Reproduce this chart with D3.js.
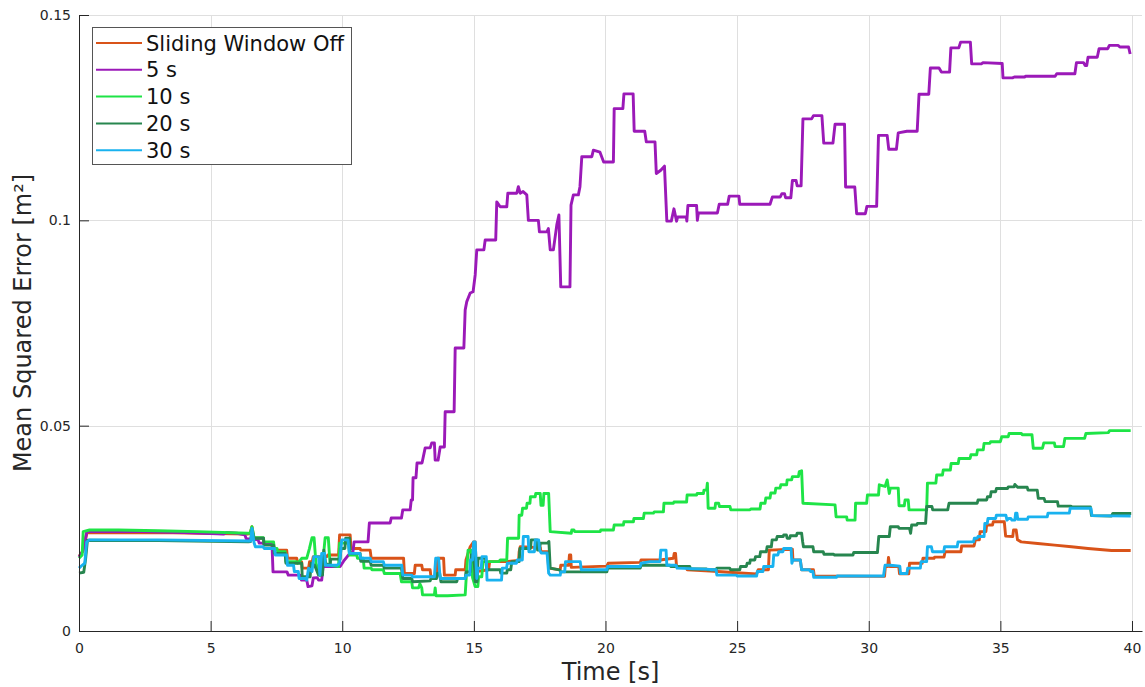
<!DOCTYPE html>
<html>
<head>
<meta charset="utf-8">
<script src="https://cdn.jsdelivr.net/npm/d3@7"></script>
<style>
  html, body { margin: 0; padding: 0; background: #fff; }
  svg { display: block; font-family: "DejaVu Sans", sans-serif; }
</style>
</head>
<body>
<svg id="chart" width="1145" height="687"></svg>
<script>
// Mean squared error over time for different sliding-window lengths.
// Each series is a list of [time (s), MSE (m^2)] samples.

const seriesNames = ["Sliding Window Off", "5 s", "10 s", "20 s", "30 s"];
const seriesColors = ["#d95319", "#9b19b8", "#1ee446", "#27864f", "#19b2ef"];

const xTicks = [0, 5, 10, 15, 20, 25, 30, 35, 40];
const yTicks = [0, 0.05, 0.1, 0.15];
const yTickLabels = ["0", "0.05", "0.1", "0.15"];

const windowOff = [
  [0,0.0182],[0.15,0.0195],[0.3,0.0239],[3,0.0240],[6.4,0.0236],
  [6.5,0.0237],[6.57,0.0254],[6.65,0.0226],[7.0,0.0226],[7.02,0.0212],[7.39,0.0212],[7.42,0.0197],
  [7.89,0.0197],[7.92,0.0177],[8.27,0.0177],[8.3,0.0168],[8.46,0.0168],[8.48,0.0153],[8.72,0.0153],
  [8.76,0.0169],[8.86,0.0169],[8.9,0.0181],[9.41,0.0181],[9.45,0.0185],[9.86,0.0185],[9.9,0.0234],
  [10.3,0.0234],[10.33,0.0201],[10.68,0.0201],[10.7,0.0197],[11.06,0.0197],[11.1,0.0177],[12.33,0.0177],
  [12.36,0.014],[12.74,0.014],[12.77,0.016],[13.02,0.016],[13.05,0.0149],[13.34,0.0149],[13.37,0.0132],
  [13.6,0.0132],[13.62,0.0177],[13.85,0.0177],[13.88,0.0136],[14.29,0.0136],[14.31,0.0149],[14.67,0.0149],
  [14.7,0.0173],[14.86,0.0205],[14.99,0.0217],[15.05,0.0217],[15.1,0.0145],[15.56,0.0149],[15.6,0.0169],
  [16.25,0.0169],[16.7,0.0172],[16.72,0.0193],[16.76,0.0205],[17.52,0.0203],[17.55,0.0193],[17.8,0.0193],
  [17.84,0.0153],[18.28,0.0149],[18.3,0.016],[18.6,0.016],[18.63,0.0185],[18.68,0.0185],[18.7,0.0155],
  [20.05,0.0158],[20.1,0.0165],[21.32,0.0167],[21.35,0.0173],[22.07,0.0173],[22.58,0.0177],[22.61,0.0189],
  [22.66,0.0189],[22.7,0.0157],[23.08,0.0155],[23.1,0.0149],[23.97,0.0146],[24.98,0.0142],[25.74,0.0139],
  [25.8,0.0149],[26.19,0.0149],[26.22,0.0197],[27.1,0.0199],[27.12,0.0173],[27.4,0.0173],[27.45,0.0149],
  [27.9,0.0149],[27.93,0.0134],[30.6,0.0133],[30.63,0.0157],[30.72,0.0157],[30.75,0.0179],[30.8,0.0157],
  [31.14,0.0157],[31.17,0.0139],[31.52,0.0139],[31.55,0.0165],[32.03,0.0165],[32.06,0.0177],[32.48,0.0177],
  [32.5,0.018],[32.86,0.018],[32.9,0.0193],[33.5,0.0193],[33.53,0.0207],[34.0,0.0207],[34.05,0.0222],
  [34.2,0.0222],[34.23,0.0242],[34.45,0.0242],[34.48,0.0258],[34.7,0.0258],[34.73,0.0266],[35.15,0.0266],
  [35.2,0.0231],[35.47,0.023],[35.5,0.0246],[35.6,0.0246],[35.65,0.0222],[35.79,0.0217],[36.42,0.0213],
  [37.06,0.0209],[37.7,0.0205],[38.33,0.0201],[39.22,0.0196],[39.95,0.0196]
];

const window5s = [
  [0,0.018],[0.15,0.0195],[0.3,0.0242],[2,0.0243],[4,0.0240],[5.5,0.0236],[5.6,0.0240],[6.0,0.0238],
  [6.3,0.0234],[6.35,0.0225],[6.8,0.0222],[6.85,0.0214],[7.33,0.0214],[7.37,0.0144],[7.9,0.0144],
  [7.95,0.0136],[8.4,0.0136],[8.45,0.0124],[8.65,0.0124],[8.7,0.0108],[8.85,0.011],[8.9,0.0129],
  [9.05,0.013],[9.1,0.0124],[9.22,0.0124],[9.27,0.0157],[9.92,0.0157],[10.05,0.017],[10.3,0.019],
  [10.4,0.019],[10.45,0.0217],[10.98,0.0217],[11.03,0.0263],[11.82,0.0263],[11.86,0.0275],[12.25,0.0275],
  [12.3,0.0295],[12.58,0.0295],[12.62,0.0319],[12.67,0.0319],[12.69,0.0373],[12.80,0.0373],[12.84,0.0409],
  [13.03,0.0409],[13.15,0.0446],[13.34,0.0446],[13.40,0.0458],[13.5,0.0458],[13.53,0.0416],[13.64,0.0416],
  [13.72,0.0448],[13.88,0.0448],[13.91,0.0534],[14.25,0.0534],[14.29,0.0689],[14.62,0.0689],[14.67,0.0782],
  [14.73,0.0802],[14.86,0.0823],[14.97,0.0826],[15.05,0.0867],[15.11,0.0928],[15.38,0.0928],[15.43,0.0952],
  [15.83,0.0952],[15.87,0.1045],[16.0,0.1033],[16.25,0.1033],[16.29,0.1066],[16.63,0.1066],[16.69,0.1082],
  [16.76,0.1066],[16.87,0.1070],[17.01,0.1062],[17.07,0.1],[17.45,0.1],[17.49,0.0972],[17.77,0.0972],
  [17.83,0.098],[17.9,0.0928],[18.02,0.0928],[18.15,0.0989],[18.23,0.1013],[18.30,0.0838],[18.65,0.0838],
  [18.69,0.1037],[18.78,0.1062],[18.97,0.1062],[19.03,0.1082],[19.1,0.1155],[19.48,0.1155],[19.54,0.1171],
  [19.79,0.1166],[19.93,0.1142],[20.3,0.1142],[20.33,0.1272],[20.66,0.1272],[20.7,0.1308],[21.05,0.1308],
  [21.09,0.1217],[21.49,0.1217],[21.55,0.1191],[21.88,0.1191],[21.93,0.1114],[22.1,0.1122],[22.24,0.1132],
  [22.33,0.0998],[22.5,0.0998],[22.6,0.1028],[22.7,0.0998],[22.74,0.1008],[23.07,0.1008],[23.09,0.0998],
  [23.13,0.1036],[23.46,0.1036],[23.49,0.1],[23.53,0.1018],[24.25,0.1018],[24.32,0.1039],[24.64,0.1039],
  [24.7,0.1059],[25.07,0.1059],[25.1,0.1039],[26.25,0.1039],[26.34,0.1057],[26.64,0.1057],[26.7,0.1065],
  [26.8,0.1065],[26.84,0.1055],[27.04,0.1055],[27.1,0.1097],[27.24,0.1097],[27.28,0.1084],[27.43,0.1084],
  [27.5,0.1247],[27.83,0.1247],[27.9,0.1255],[28.22,0.1255],[28.29,0.1188],[28.64,0.1188],[28.72,0.1234],
  [29.08,0.1234],[29.12,0.1081],[29.47,0.1081],[29.54,0.1016],[29.87,0.1016],[29.93,0.1034],[30.3,0.1034],
  [30.37,0.1207],[30.7,0.1207],[30.76,0.1173],[31.05,0.1173],[31.12,0.1213],[31.45,0.1217],[31.84,0.1217],
  [31.91,0.1307],[32.28,0.1307],[32.34,0.1371],[32.67,0.1371],[32.76,0.1361],[33.07,0.1361],[33.12,0.142],
  [33.42,0.142],[33.49,0.1434],[33.86,0.1434],[33.91,0.1381],[34.28,0.1381],[34.34,0.1384],[35.07,0.1382],
  [35.1,0.1347],[35.46,0.1347],[35.53,0.1349],[35.92,0.1349],[35.96,0.1351],[37.08,0.1351],[37.14,0.1357],
  [37.83,0.1357],[37.89,0.1384],[38.16,0.1384],[38.22,0.1377],[38.28,0.1377],[38.33,0.1397],[38.68,0.1397],
  [38.75,0.1418],[39.08,0.1418],[39.14,0.1426],[39.47,0.1426],[39.54,0.1422],[39.87,0.1422],[39.93,0.1405]
];

const window10s = [
  [0,0.0177],[0.12,0.0185],[0.16,0.0242],[0.4,0.0246],[1.5,0.0246],[3,0.0244],[4.5,0.0242],[6.4,0.0238],
  [6.5,0.0238],[6.57,0.0254],[6.65,0.0227],[7.0,0.0227],[7.02,0.0217],[7.39,0.0217],[7.42,0.0201],
  [7.52,0.0201],[7.55,0.0193],[7.83,0.0193],[7.86,0.0169],[8.27,0.0169],[8.3,0.0165],[8.4,0.0172],
  [8.46,0.0177],[8.65,0.0177],[8.75,0.020],[8.85,0.0227],[8.93,0.0227],[9.0,0.0165],[9.15,0.0136],
  [9.25,0.016],[9.35,0.0227],[9.47,0.0227],[9.54,0.016],[9.86,0.0157],[9.9,0.0214],[10.24,0.0214],
  [10.28,0.0185],[10.55,0.0185],[10.58,0.0177],[10.8,0.0177],[10.83,0.0153],[11.1,0.0153],[11.13,0.0149],
  [11.56,0.0149],[11.6,0.014],[12.2,0.014],[12.25,0.012],[12.64,0.012],[12.67,0.0105],[12.9,0.0105],
  [12.95,0.0115],[13.02,0.0105],[13.05,0.0088],[13.5,0.0088],[13.53,0.0105],[13.56,0.0086],[14.0,0.0086],
  [14.67,0.0088],[14.7,0.012],[14.78,0.0197],[14.9,0.0197],[14.95,0.013],[15.05,0.0108],[15.15,0.0108],
  [15.18,0.0132],[15.3,0.0132],[15.35,0.0169],[15.95,0.0169],[16.0,0.0173],[16.25,0.0173],[16.28,0.0226],
  [16.7,0.0226],[16.72,0.0282],[16.82,0.0282],[16.85,0.0299],[17.0,0.0299],[17.02,0.0311],[17.13,0.0311],
  [17.15,0.0327],[17.33,0.0327],[17.35,0.0335],[17.52,0.0335],[17.55,0.0306],[17.63,0.0306],[17.66,0.0335],
  [17.84,0.0335],[17.9,0.0242],[18.7,0.0238],[18.72,0.0246],[18.8,0.0246],[18.83,0.0242],[19.8,0.0242],
  [19.82,0.0246],[20.3,0.0246],[20.33,0.0258],[20.68,0.0258],[20.7,0.0266],[21.06,0.0266],[21.08,0.0274],
  [21.44,0.0274],[21.47,0.0287],[21.82,0.0287],[21.85,0.029],[22.2,0.029],[22.22,0.0311],[22.58,0.0311],
  [22.6,0.0314],[23.08,0.0314],[23.1,0.0331],[23.46,0.0331],[23.48,0.0335],[23.72,0.0335],[23.74,0.0343],
  [23.84,0.0343],[23.87,0.036],[23.9,0.0299],[24.16,0.0299],[24.18,0.0311],[24.3,0.0311],[24.33,0.0303],
  [24.73,0.0303],[24.76,0.0295],[25.49,0.0295],[25.52,0.0297],[25.87,0.0297],[25.9,0.0311],[26.06,0.0311],
  [26.09,0.0324],[26.25,0.0324],[26.28,0.0336],[26.44,0.0336],[26.47,0.0348],[26.63,0.0348],[26.66,0.0356],
  [26.88,0.0356],[26.9,0.0368],[27.07,0.0368],[27.1,0.0376],[27.33,0.0376],[27.36,0.0388],[27.45,0.039],
  [27.5,0.0311],[28.72,0.0307],[28.76,0.0278],[29.16,0.0278],[29.18,0.027],[29.48,0.027],[29.5,0.0311],
  [29.92,0.0311],[29.95,0.0331],[30.37,0.0331],[30.4,0.0356],[30.62,0.0352],[30.7,0.0368],[30.78,0.0335],
  [30.82,0.0348],[31.12,0.0348],[31.15,0.0305],[31.35,0.0305],[31.38,0.0319],[31.5,0.0319],[31.53,0.0295],
  [32.2,0.0295],[32.23,0.036],[32.55,0.036],[32.58,0.038],[32.8,0.038],[32.83,0.0392],[33.1,0.0392],
  [33.13,0.0408],[33.4,0.0408],[33.43,0.042],[33.85,0.042],[33.88,0.0429],[34.1,0.0429],[34.13,0.0441],
  [34.35,0.0441],[34.38,0.0457],[34.6,0.0457],[34.63,0.0461],[35.0,0.0461],[35.05,0.0473],[35.3,0.0473],
  [35.33,0.0481],[35.8,0.0481],[35.83,0.0478],[36.2,0.0478],[36.25,0.0445],[36.6,0.0445],[36.65,0.0458],
  [37.05,0.0458],[37.08,0.0449],[37.4,0.0449],[37.45,0.0469],[38.2,0.0469],[38.25,0.0481],[39.1,0.0483],
  [39.15,0.0488],[39.95,0.0488]
];

const window20s = [
  [0,0.0141],[0.18,0.0143],[0.25,0.0175],[0.32,0.0221],[3,0.022],[6.43,0.0217],[6.52,0.0218],[6.57,0.0245],
  [6.65,0.0226],[7.01,0.0226],[7.03,0.0209],[7.39,0.0209],[7.42,0.0189],[7.83,0.0189],[7.86,0.0165],
  [8.46,0.0165],[8.48,0.0132],[8.78,0.0132],[8.82,0.0165],[8.95,0.016],[9.1,0.0136],[9.25,0.0136],
  [9.3,0.0197],[9.37,0.0165],[9.54,0.016],[9.56,0.0175],[9.92,0.0175],[9.95,0.0201],[10.1,0.0201],
  [10.13,0.0226],[10.28,0.0226],[10.3,0.0189],[10.68,0.0189],[10.7,0.017],[11.06,0.017],[11.1,0.016],
  [11.56,0.016],[11.6,0.0153],[12.25,0.0153],[12.3,0.0128],[12.64,0.0128],[12.67,0.012],[13.34,0.0122],
  [13.37,0.0128],[13.58,0.0128],[13.62,0.0141],[13.7,0.0141],[13.75,0.012],[14.35,0.012],[14.38,0.0128],
  [14.67,0.0128],[14.7,0.0144],[14.86,0.0144],[14.9,0.0185],[15.0,0.0185],[15.05,0.012],[15.12,0.012],
  [15.16,0.0177],[15.45,0.0177],[15.49,0.0149],[16.0,0.0149],[16.02,0.0141],[16.25,0.0141],[16.27,0.0149],
  [16.4,0.0149],[16.44,0.0169],[16.72,0.0169],[16.75,0.0201],[17.15,0.0201],[17.18,0.0222],[17.4,0.0222],
  [17.42,0.0197],[17.5,0.0197],[17.52,0.0214],[17.8,0.0214],[17.85,0.0218],[17.9,0.0153],[18.25,0.0149],
  [18.3,0.0144],[20.05,0.0144],[20.08,0.0153],[21.32,0.0153],[21.35,0.016],[22.45,0.016],[22.48,0.0157],
  [23.2,0.0157],[23.23,0.0151],[23.84,0.0151],[23.87,0.0149],[24.2,0.0149],[24.23,0.0153],[24.72,0.0153],
  [24.75,0.0149],[25.1,0.0149],[25.13,0.0157],[25.35,0.0157],[25.38,0.0165],[25.48,0.0165],[25.5,0.0173],
  [25.67,0.0173],[25.7,0.0181],[25.86,0.0181],[25.89,0.0193],[26.11,0.0193],[26.14,0.0205],[26.3,0.0205],
  [26.33,0.0222],[26.49,0.0222],[26.52,0.023],[26.75,0.023],[26.77,0.0234],[26.87,0.0234],[26.9,0.0226],
  [27.0,0.0226],[27.02,0.0232],[27.25,0.0232],[27.28,0.0238],[27.45,0.0238],[27.49,0.0217],[27.52,0.0205],
  [27.88,0.0205],[27.91,0.0193],[28.27,0.0193],[28.3,0.0187],[28.66,0.0187],[28.7,0.0185],[29.4,0.0185],
  [29.43,0.0191],[30.33,0.0191],[30.38,0.023],[30.78,0.023],[30.82,0.0254],[31.12,0.0254],[31.15,0.025],
  [31.55,0.025],[31.59,0.0238],[31.63,0.0258],[31.82,0.0258],[31.85,0.0262],[32.16,0.0262],[32.2,0.0303],
  [32.4,0.0303],[32.43,0.0295],[33.0,0.0295],[33.05,0.0311],[34.12,0.0311],[34.15,0.0319],[34.48,0.0319],
  [34.51,0.0327],[34.62,0.0327],[34.65,0.0339],[34.82,0.0339],[34.85,0.0347],[35.27,0.0347],[35.3,0.0351],
  [35.52,0.0351],[35.55,0.0357],[35.62,0.0352],[35.66,0.035],[36.02,0.035],[36.05,0.0343],[36.4,0.0343],
  [36.44,0.0323],[36.66,0.0323],[36.7,0.0315],[37.17,0.0315],[37.2,0.0304],[37.68,0.0304],[37.72,0.0302],
  [38.42,0.0302],[38.46,0.0281],[39.22,0.028],[39.27,0.0286],[39.97,0.0286]
];

const window30s = [
  [0,0.0153],[0.12,0.016],[0.22,0.0165],[0.29,0.0217],[0.4,0.0222],[3,0.0222],[6.43,0.0219],[6.52,0.0219],
  [6.57,0.025],[6.65,0.0215],[6.7,0.0205],[7.0,0.0205],[7.03,0.0201],[7.43,0.0201],[7.46,0.0185],
  [7.89,0.0185],[7.92,0.016],[8.15,0.016],[8.18,0.0145],[8.33,0.0145],[8.36,0.0128],[8.6,0.0128],
  [8.65,0.0124],[8.72,0.0153],[8.85,0.0145],[8.92,0.0181],[9.1,0.0181],[9.15,0.0136],[9.22,0.0189],
  [9.33,0.0189],[9.36,0.016],[9.8,0.016],[9.9,0.0165],[9.98,0.0222],[10.22,0.0222],[10.27,0.0189],
  [10.67,0.0189],[10.7,0.0177],[11.06,0.0177],[11.1,0.0169],[11.56,0.0169],[11.6,0.016],[12.26,0.016],
  [12.3,0.0136],[12.64,0.0136],[12.67,0.0132],[13.5,0.0132],[13.55,0.0177],[13.66,0.0177],[13.72,0.0128],
  [14.67,0.0128],[14.7,0.0136],[14.84,0.0136],[14.87,0.0173],[14.95,0.0173],[14.99,0.0217],[15.05,0.0217],
  [15.11,0.0128],[15.16,0.0153],[15.28,0.0153],[15.31,0.0181],[15.47,0.0181],[15.5,0.0124],[16.05,0.0124],
  [16.08,0.0153],[16.24,0.0153],[16.27,0.0165],[16.62,0.0165],[16.65,0.0173],[16.84,0.0173],[16.88,0.023],
  [17.06,0.023],[17.09,0.0193],[17.3,0.0193],[17.33,0.0222],[17.46,0.0222],[17.5,0.0197],[17.56,0.019],
  [17.78,0.019],[17.84,0.0141],[17.9,0.0136],[18.28,0.0136],[18.3,0.0144],[18.45,0.0144],[18.48,0.0169],
  [19.04,0.0169],[19.08,0.0149],[20.05,0.0149],[20.08,0.0157],[21.32,0.0157],[21.35,0.0165],[21.69,0.0169],
  [22.07,0.0169],[22.1,0.0197],[22.3,0.0197],[22.33,0.016],[22.68,0.016],[22.72,0.0153],[23.97,0.015],
  [24.0,0.0149],[24.2,0.0149],[24.23,0.0136],[24.98,0.0136],[25.0,0.0134],[25.74,0.0134],[25.77,0.0145],
  [25.98,0.0145],[26.01,0.0157],[26.36,0.0157],[26.39,0.0185],[26.55,0.0185],[26.58,0.0193],[26.74,0.0193],
  [26.77,0.0201],[27.05,0.0201],[27.08,0.0165],[27.12,0.0173],[27.4,0.0173],[27.45,0.0149],[27.75,0.0149],
  [27.78,0.0145],[27.88,0.0145],[27.91,0.0131],[28.78,0.0131],[28.8,0.0134],[30.56,0.0134],[30.62,0.016],
  [30.82,0.016],[31.18,0.0158],[31.21,0.014],[31.45,0.014],[31.48,0.0153],[31.96,0.0153],[31.99,0.0169],
  [32.2,0.0169],[32.23,0.0205],[32.38,0.0205],[32.42,0.0193],[32.85,0.0193],[32.88,0.0205],[33.36,0.0205],
  [33.39,0.0217],[33.98,0.0217],[34.01,0.0226],[34.12,0.0226],[34.15,0.023],[34.38,0.023],[34.41,0.0262],
  [34.5,0.0262],[34.53,0.0274],[34.82,0.0274],[34.85,0.0282],[35.21,0.0282],[35.25,0.027],[35.31,0.0274],
  [35.4,0.0274],[35.44,0.027],[35.55,0.027],[35.58,0.0287],[35.63,0.0287],[35.66,0.0272],[36.03,0.0272],
  [36.06,0.0278],[36.78,0.0278],[36.81,0.0287],[37.62,0.0287],[37.65,0.0299],[38.44,0.0299],[38.48,0.0281],
  [39.95,0.028]
];

const allSeries = [windowOff, window5s, window10s, window20s, window30s];

// ---- layout ----
const svg = d3.select("#chart");
const plotLeft = 79, plotRight = 1142, plotTop = 15, plotBottom = 631;
const axisColor = "#262626";

const x = d3.scaleLinear().domain([0, 40.38]).range([plotLeft, plotRight]);
const y = d3.scaleLinear().domain([0, 0.15]).range([plotBottom, plotTop]);

svg.append("rect").attr("width", 1145).attr("height", 687).attr("fill", "#fff");

// grid
const grid = svg.append("g").attr("stroke", "#dfdfdf").attr("stroke-width", 1);
grid.selectAll(".vg").data(xTicks).join("line")
  .attr("x1", d => Math.round(x(d)) + 0.5).attr("x2", d => Math.round(x(d)) + 0.5)
  .attr("y1", plotTop).attr("y2", plotBottom);
grid.selectAll(".hg").data(yTicks).join("line")
  .attr("x1", plotLeft).attr("x2", plotRight)
  .attr("y1", d => Math.round(y(d)) + 0.5).attr("y2", d => Math.round(y(d)) + 0.5);

// series lines
const line = d3.line().x(d => x(d[0])).y(d => y(d[1]));
svg.append("g").selectAll("path").data(allSeries).join("path")
  .attr("d", line)
  .attr("fill", "none")
  .attr("stroke", (d, i) => seriesColors[i])
  .attr("stroke-width", 2.9)
  .attr("stroke-linejoin", "round");

// axes
const xAxis = d3.axisBottom(x).tickValues(xTicks).tickFormat(d3.format("d"))
  .tickSizeInner(-10).tickSizeOuter(0).tickPadding(12);
const yAxis = d3.axisLeft(y).tickValues(yTicks).tickFormat((d, i) => yTickLabels[i])
  .tickSizeInner(-10).tickSizeOuter(0).tickPadding(8);

function styleAxis(g) {
  g.selectAll("path, line").attr("stroke", axisColor).attr("stroke-width", 1);
  g.selectAll("text").attr("fill", axisColor).style("font-size", "14px")
    .style("font-family", "'DejaVu Sans', sans-serif");
}
svg.append("g").attr("transform", `translate(0,${plotBottom})`).call(xAxis).call(styleAxis);
svg.append("g").attr("transform", `translate(${plotLeft},0)`).call(yAxis).call(styleAxis);

// axis titles
svg.append("text")
  .attr("x", (plotLeft + plotRight) / 2).attr("y", 680)
  .attr("text-anchor", "middle")
  .attr("fill", axisColor)
  .style("font-size", "24px")
  .text("Time [s]");

svg.append("text")
  .attr("transform", `translate(31,${(plotTop + plotBottom) / 2}) rotate(-90)`)
  .attr("text-anchor", "middle")
  .attr("fill", axisColor)
  .style("font-size", "24px")
  .text("Mean Squared Error [m²]");

// legend
const legend = svg.append("g");
legend.append("rect")
  .attr("x", 92.5).attr("y", 27.5).attr("width", 259).attr("height", 137)
  .attr("fill", "#fff").attr("stroke", "#555").attr("stroke-width", 1);
const rows = legend.selectAll(".row").data(seriesNames).join("g")
  .attr("transform", (d, i) => `translate(0,${43 + i * 26.8})`);
rows.append("line")
  .attr("x1", 96).attr("x2", 142).attr("y1", 0).attr("y2", 0)
  .attr("stroke", (d, i) => seriesColors[i]).attr("stroke-width", 2);
rows.append("text")
  .attr("x", 146).attr("y", 0).attr("dy", "0.36em")
  .attr("fill", "#111")
  .style("font-size", "21px")
  .text(d => d);
</script>
</body>
</html>
